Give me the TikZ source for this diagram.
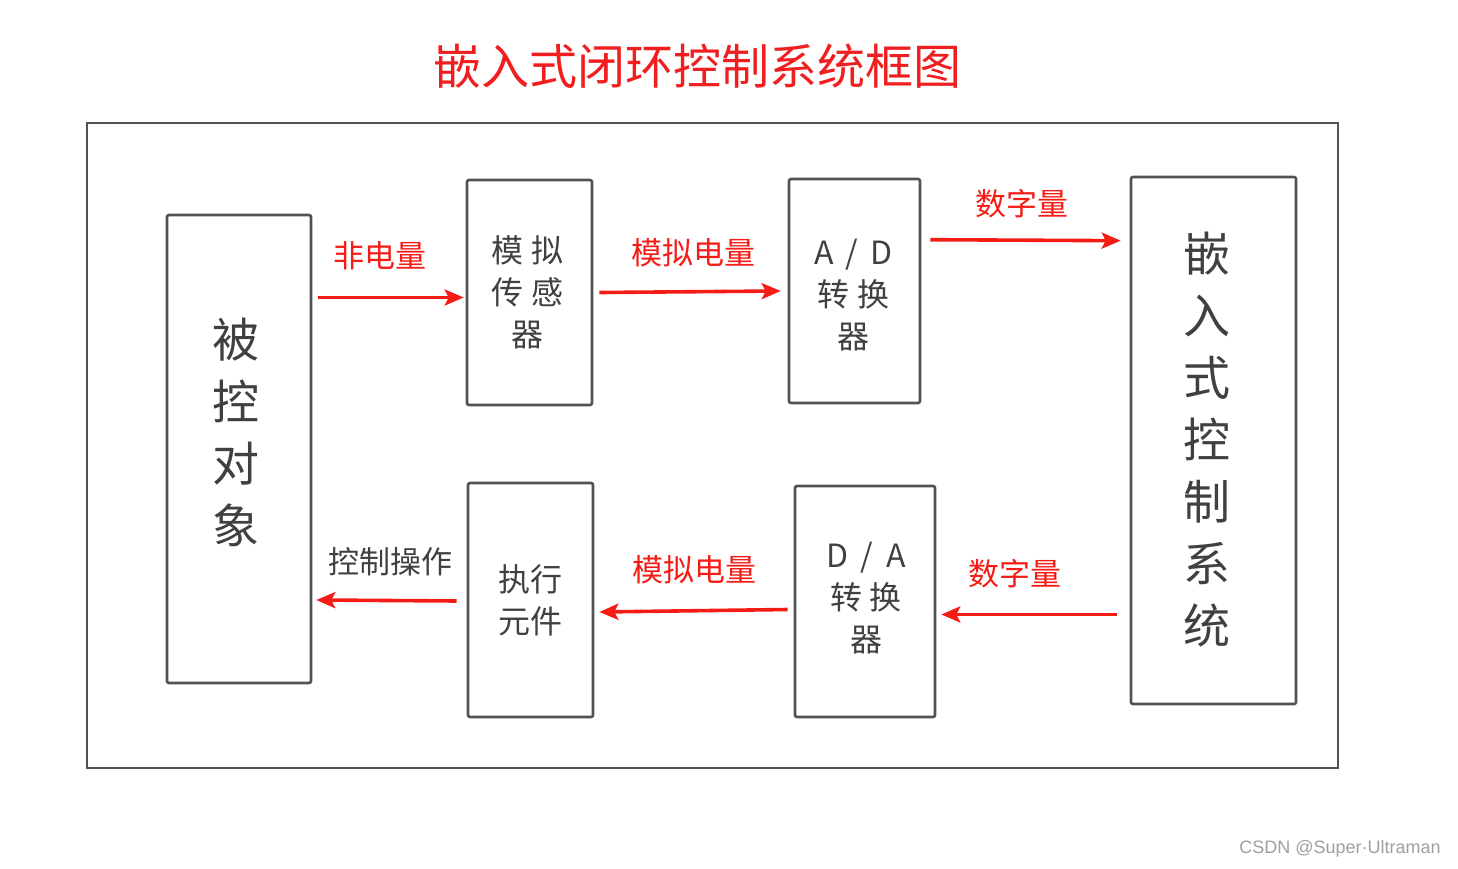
\documentclass[tikz,border=0pt]{standalone}
\usepackage{fontspec}
\setmainfont{Noto Sans CJK SC}
\newfontfamily\wmfont{Liberation Sans}
\usepackage{xcolor}
\usetikzlibrary{arrows.meta,positioning,calc}
\definecolor{arrred}{RGB}{246,28,22}
\definecolor{titlered}{RGB}{240,30,30}
\definecolor{txtgray}{RGB}{64,64,64}
\definecolor{boxgray}{RGB}{82,82,82}

\begin{document}
\begin{tikzpicture}[
  x=1pt, y=-1pt,
  >=Stealth,
  blk/.style={draw=boxgray, line width=2.6pt, rounded corners=2pt, inner sep=0pt},
  small/.style={align=center, text=txtgray, inner sep=0pt, font=\fontsize{32}{42}\selectfont},
  tall/.style={align=center, text=txtgray, inner sep=0pt, font=\fontsize{47}{62}\selectfont},
  lab/.style={text=arrred, inner sep=0pt, font=\fontsize{31}{36}\selectfont},
  arr/.style={-{Stealth[length=19pt, width=16pt, inset=4pt]}, draw=arrred, line width=3.6pt}]
  \useasboundingbox (0,0) rectangle (1458,869);
  \node[text=titlered, inner sep=0pt, font=\fontsize{48}{56}\selectfont] (title) at (697,66) {嵌入式闭环控制系统框图};
  \node[draw=boxgray, line width=2.6pt, minimum width=1251pt, minimum height=645pt] (frame) at (712.5,445.5) {};
  % boxes
  \node[blk, minimum width=144pt, minimum height=468pt] (obj) at (239,449) {};
  \node[blk, minimum width=125pt, minimum height=225pt] (sens) at (529.5,292.5) {};
  \node[blk, minimum width=131pt, minimum height=224pt] (ad) at (854.5,291) {};
  \node[blk, minimum width=165pt, minimum height=527pt] (emb) at (1213.5,440.5) {};
  \node[blk, minimum width=125pt, minimum height=234pt] (exe) at (530.5,600) {};
  \node[blk, minimum width=140pt, minimum height=231pt] (da) at (865,601.5) {};
  % box texts
  \node[tall] (objtxt) at ($(obj.center)+(-3,-17)$) {被\\控\\对\\象};
  \node[small] (senstxt) at ($(sens.center)+(-2,0)$) {模 拟\\传 感\\器};
  \node[small] (adtxt) at ($(ad.center)+(-1,4)$) {A \,/\, D\\转 换\\器};
  \node[tall] (embtxt) at ($(emb.center)+(-7,-1)$) {嵌\\入\\式\\控\\制\\系\\统};
  \node[small] (exetxt) at (exe.center) {执行\\元件};
  \node[small] (datxt) at ($(da.center)+(1,-3)$) {D \,/\, A\\转 换\\器};
  % connectors
  \draw[arr] ($(obj.east |- sens.west)+(6,5)$) -- ($(sens.west)+(-2,5)$);
  \draw[arr] ($(sens.east)+(6,0)$) -- ($(ad.west)+(-7,0)$);
  \draw[arr] ($(ad.north east)+(9,62)$) -- ($(emb.north west)+(-9,65)$);
  \draw[arr] ($(emb.west |- da.east)+(-13,13)$) -- ($(da.east)+(5,13)$);
  \draw[arr] ($(da.west)+(-6,8)$) -- ($(exe.east)+(5,12)$);
  \draw[arr] ($(exe.west)+(-10,1)$) -- ($(obj.east |- exe.west)+(4,0)$);
  % labels
  \node[lab] (l1) at (380,256) {非电量};
  \node[lab] (l2) at (693,253) {模拟电量};
  \node[lab] (l3) at (1022,204) {数字量};
  \node[lab] (l4) at (1015,574) {数字量};
  \node[lab] (l5) at (694,570) {模拟电量};
  \node[lab, text=txtgray] (l6) at (390,562) {控制操作};
  \node[text=gray!75, inner sep=0pt, font=\wmfont\fontsize{18}{20}\selectfont] (mark) at (1340,849) {CSDN @Super·Ultraman};
\end{tikzpicture}
\end{document}
